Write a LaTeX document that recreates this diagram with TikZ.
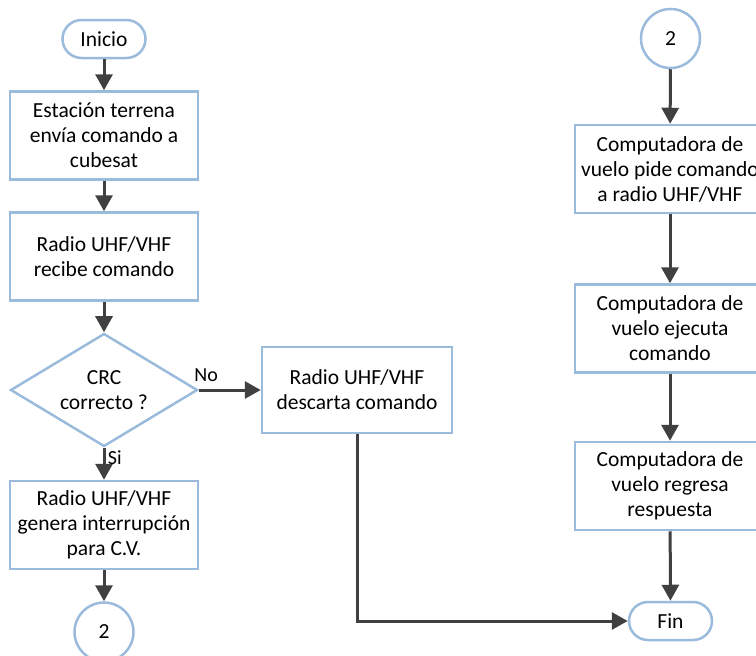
\documentclass[tikz,border=0pt]{standalone}
\usepackage{fontspec}
\setmainfont{Carlito}
\usetikzlibrary{shapes.geometric,arrows.meta}
\definecolor{boxblue}{RGB}{155,187,220}
\definecolor{flowgray}{RGB}{64,64,64}

\tikzset{
  proceso/.style={draw=boxblue, line width=2.5pt, fill=white, rectangle,
    minimum width=188pt, minimum height=88pt, align=center, inner sep=2pt},
  decision/.style={draw=boxblue, line width=2.5pt, fill=white, diamond, aspect=1.65,
    minimum width=187pt, minimum height=113pt, align=center, inner sep=0pt},
  terminal/.style={draw=boxblue, line width=2.5pt, fill=white, rectangle,
    rounded corners=19pt, minimum width=83pt, minimum height=38pt},
  conector/.style={draw=boxblue, line width=2.5pt, fill=white, circle,
    minimum size=59pt, inner sep=0pt},
  flecha/.style={draw=flowgray, line width=3pt, ->},
  etiqueta/.style={font=\fontsize{20}{23}\selectfont}
}

\begin{document}
\begin{tikzpicture}[x=1pt,y=-1pt,> = {Triangle[length=16pt,width=17pt]},
  font=\fontsize{21.5}{25}\selectfont]
			\clip (0,0) rectangle (756,656);

			% Left column
			\node[terminal] (inicio) at (104,39) {Inicio};
			\node[proceso] (envia) at (104,135.5) {Estación terrena\\envía comando a\\cubesat};
			\node[proceso] (recibe) at (104,256.5) {Radio UHF/VHF\\recibe comando};
			\node[decision] (crc) at (104,390) {CRC\\correcto ?};
			\node[proceso] (genera) at (104,525) {Radio UHF/VHF\\genera interrupción\\para C.V.};
			\node[conector] (conA) at (104,632) {2};

			% Middle
			\node[proceso, minimum width=190pt, minimum height=86pt] (descarta) at (357,390) {Radio UHF/VHF\\descarta comando};

			% Right column
			\node[conector] (conB) at (670.5,38.5) {2};
			\node[proceso, minimum width=190pt] (pide) at (670,169) {Computadora de\\vuelo pide comando\\a radio UHF/VHF};
			\node[proceso, minimum width=190pt] (ejecuta) at (670,328.5) {Computadora de\\vuelo ejecuta\\comando};
			\node[proceso, minimum width=190pt] (regresa) at (670,486) {Computadora de\\vuelo regresa\\respuesta};
			\node[terminal] (fin) at (670.5,621) {Fin};

			% Flow arrows
			\draw[flecha] (inicio) -- (envia);
			\draw[flecha] (envia) -- (recibe);
			\draw[flecha] (recibe) -- (crc);
			\draw[flecha] (crc.east) -- node[etiqueta, pos=0.12, above, yshift=4pt] {No} (descarta.west);
			\draw[flecha] (crc.south) -- node[etiqueta, pos=0.3, right, xshift=-1pt] {Si} (genera.north);
			\draw[flecha] (genera) -- (conA);
			\draw[flecha] (conB) -- (pide);
			\draw[flecha] (pide) -- (ejecuta);
			\draw[flecha] (ejecuta) -- (regresa);
			\draw[flecha] (regresa) -- (fin);
			\draw[flecha] (descarta.south) |- (fin.west);
		\end{tikzpicture}
\end{document}
